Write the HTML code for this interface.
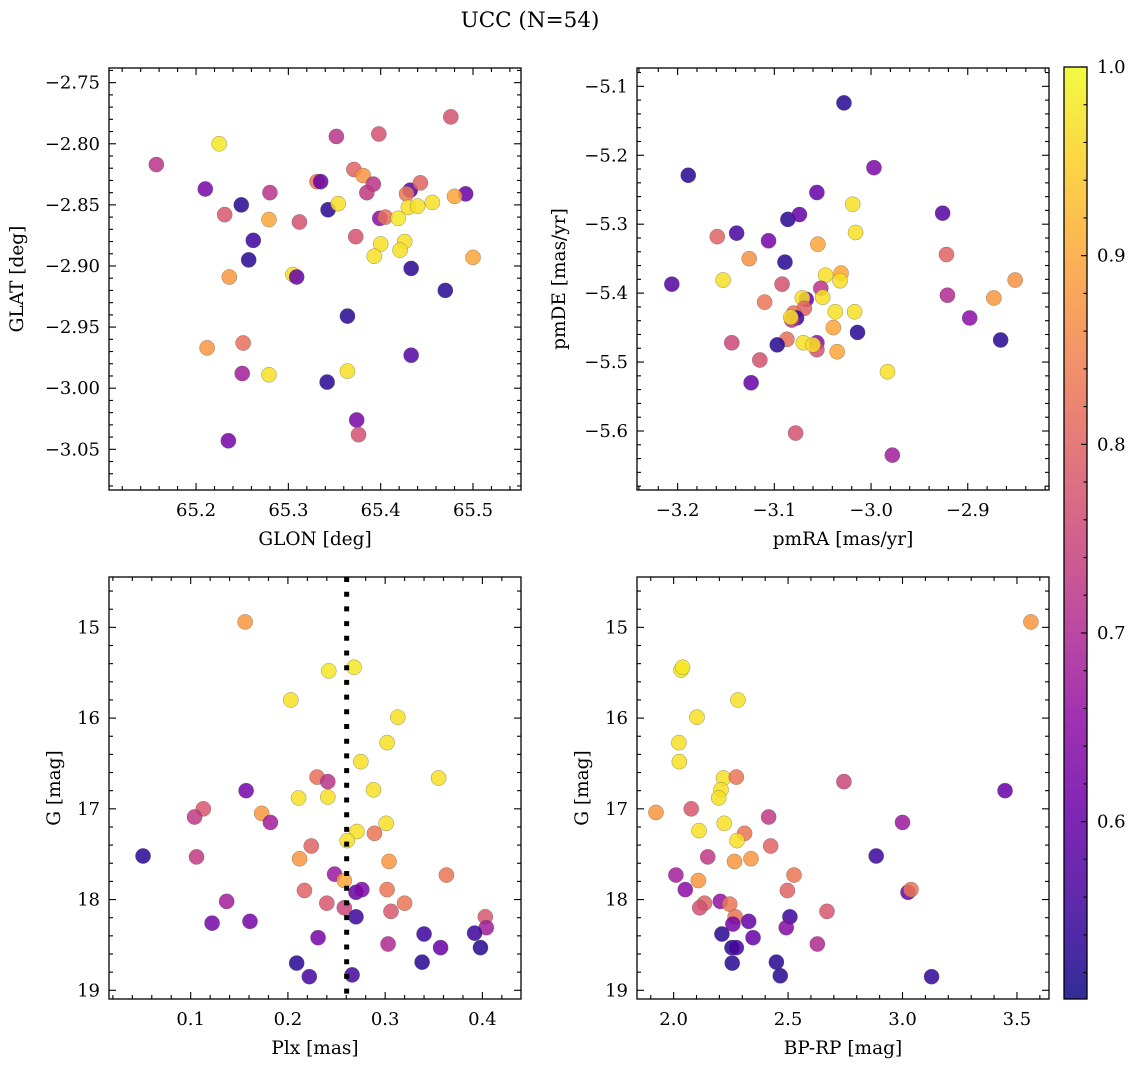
<!DOCTYPE html>
<html><head><meta charset="utf-8"><style>
html,body{margin:0;padding:0;background:#fff;}
svg{display:block;font-family:"DejaVu Serif","Liberation Serif",serif;}
</style></head><body>
<svg id="fig" width="1136" height="1067" viewBox="0 0 1136 1067" xmlns="http://www.w3.org/2000/svg">
<text x="530" y="27" font-size="21.5" text-anchor="middle">UCC (N=54)</text>
</svg>
<script>
// ---- Panel 1: GLON / GLAT ----
const p1X = [65.157,65.225,65.210,65.280,65.249,65.231,65.279,65.312,65.262,65.257,65.236,65.305,65.309,65.352,65.398,65.476,65.331,65.335,65.371,65.381,65.392,65.385,65.343,65.354,65.432,65.443,65.428,65.492,65.480,65.456,65.430,65.440,65.399,65.405,65.419,65.373,65.400,65.426,65.421,65.393,65.433,65.500,65.470,65.364,65.212,65.251,65.250,65.279,65.342,65.364,65.433,65.374,65.376,65.235];
const p1Y = [-2.817,-2.800,-2.837,-2.840,-2.850,-2.858,-2.862,-2.864,-2.879,-2.895,-2.909,-2.907,-2.909,-2.794,-2.792,-2.778,-2.831,-2.831,-2.821,-2.826,-2.833,-2.840,-2.854,-2.849,-2.838,-2.832,-2.841,-2.841,-2.843,-2.848,-2.852,-2.851,-2.861,-2.860,-2.861,-2.876,-2.882,-2.880,-2.887,-2.892,-2.902,-2.893,-2.920,-2.941,-2.967,-2.963,-2.988,-2.989,-2.995,-2.986,-2.973,-3.026,-3.038,-3.043];
const p1P = [0.72,0.98,0.62,0.72,0.53,0.78,0.90,0.77,0.55,0.53,0.88,0.97,0.60,0.72,0.77,0.77,0.83,0.60,0.80,0.88,0.72,0.73,0.53,0.97,0.58,0.80,0.83,0.60,0.90,0.97,0.97,0.97,0.65,0.82,0.98,0.77,0.97,0.97,0.97,0.97,0.53,0.90,0.53,0.53,0.88,0.82,0.68,0.97,0.53,0.97,0.58,0.62,0.77,0.62];
// ---- Panel 2: pmRA / pmDE ----
const p2X = [-3.028,-3.189,-2.997,-3.056,-3.019,-2.926,-3.086,-3.074,-3.139,-3.159,-3.106,-3.016,-3.055,-3.126,-3.089,-2.922,-3.206,-3.153,-3.092,-3.047,-3.031,-3.032,-3.052,-2.851,-2.921,-2.873,-3.110,-3.067,-3.071,-3.050,-3.069,-3.080,-3.037,-3.017,-3.077,-3.082,-3.083,-3.039,-2.898,-3.014,-2.866,-3.144,-3.087,-3.097,-3.070,-3.056,-3.056,-3.060,-3.035,-3.115,-2.983,-3.124,-3.078,-2.978];
const p2Y = [-5.124,-5.229,-5.218,-5.254,-5.271,-5.284,-5.293,-5.286,-5.313,-5.318,-5.324,-5.312,-5.329,-5.350,-5.355,-5.344,-5.387,-5.381,-5.387,-5.374,-5.371,-5.382,-5.393,-5.381,-5.403,-5.407,-5.413,-5.409,-5.407,-5.406,-5.422,-5.429,-5.427,-5.427,-5.436,-5.439,-5.435,-5.450,-5.436,-5.457,-5.468,-5.472,-5.467,-5.475,-5.472,-5.472,-5.482,-5.475,-5.485,-5.497,-5.514,-5.530,-5.603,-5.635];
const p2P = [0.53,0.53,0.63,0.60,0.97,0.58,0.53,0.60,0.56,0.80,0.62,0.97,0.90,0.87,0.53,0.80,0.58,0.97,0.77,0.97,0.90,0.97,0.72,0.87,0.70,0.88,0.83,0.60,0.97,0.97,0.80,0.82,0.97,0.97,0.55,0.72,0.97,0.90,0.65,0.53,0.53,0.75,0.82,0.53,0.97,0.65,0.77,0.97,0.90,0.77,0.97,0.60,0.77,0.68];
// ---- Panel 3: Plx / G ----
const p3X = [0.156,0.242,0.268,0.203,0.313,0.302,0.275,0.355,0.230,0.241,0.157,0.288,0.211,0.241,0.113,0.104,0.173,0.182,0.301,0.271,0.289,0.261,0.224,0.051,0.106,0.212,0.304,0.363,0.248,0.258,0.217,0.270,0.276,0.302,0.240,0.320,0.137,0.258,0.306,0.270,0.403,0.122,0.161,0.404,0.340,0.392,0.231,0.303,0.357,0.398,0.209,0.338,0.222,0.266];
const p3Y = [14.94,15.48,15.44,15.80,15.99,16.27,16.48,16.66,16.65,16.70,16.80,16.79,16.88,16.87,17.00,17.09,17.05,17.15,17.16,17.25,17.27,17.35,17.41,17.52,17.53,17.55,17.58,17.73,17.72,17.79,17.90,17.92,17.89,17.89,18.04,18.04,18.02,18.09,18.13,18.19,18.19,18.26,18.24,18.31,18.38,18.37,18.42,18.49,18.53,18.53,18.70,18.69,18.85,18.83];
const p3P = [0.88,0.98,0.98,0.97,0.97,0.97,0.97,0.97,0.82,0.72,0.62,0.97,0.97,0.97,0.78,0.73,0.88,0.68,0.97,0.97,0.83,0.97,0.80,0.53,0.73,0.88,0.88,0.83,0.67,0.90,0.80,0.60,0.63,0.83,0.78,0.83,0.68,0.75,0.78,0.55,0.78,0.62,0.62,0.68,0.55,0.55,0.62,0.70,0.60,0.53,0.53,0.53,0.56,0.56];
const plxMean = 0.2604;
// ---- Panel 4: BP-RP / G ----
const p4X = [3.561,2.033,2.039,2.281,2.102,2.023,2.025,2.218,2.274,2.744,3.448,2.207,2.197,2.077,1.923,2.415,3.000,2.221,2.111,2.310,2.277,2.424,2.885,2.149,2.338,2.266,2.010,2.526,2.108,2.051,2.497,3.024,3.037,2.135,2.114,2.204,2.245,2.670,2.269,2.508,2.259,2.328,2.492,2.211,2.347,2.628,2.255,2.274,2.256,2.449,2.466,3.127];
const p4Y = [14.94,15.47,15.44,15.80,15.99,16.27,16.48,16.66,16.65,16.70,16.80,16.79,16.88,17.00,17.04,17.09,17.15,17.16,17.24,17.27,17.35,17.41,17.52,17.53,17.55,17.58,17.73,17.73,17.79,17.89,17.90,17.92,17.89,18.04,18.09,18.02,18.05,18.13,18.19,18.19,18.27,18.24,18.31,18.38,18.42,18.49,18.53,18.53,18.70,18.69,18.84,18.85];
const p4P = [0.88,0.98,0.98,0.97,0.97,0.97,0.97,0.97,0.83,0.75,0.60,0.97,0.97,0.78,0.88,0.73,0.67,0.97,0.97,0.83,0.97,0.80,0.55,0.73,0.88,0.88,0.68,0.83,0.88,0.65,0.80,0.60,0.83,0.80,0.77,0.66,0.83,0.78,0.83,0.55,0.62,0.60,0.64,0.53,0.60,0.70,0.53,0.56,0.53,0.53,0.53,0.54];
// ---- Colorbar ----
const cbMin = 0.506, cbMax = 1.0;
const cbTicks = [0.6,0.7,0.8,0.9,1.0];

const NS = "http://www.w3.org/2000/svg";
const svg = document.getElementById('fig');
function mk(tag, attrs, parent){const e=document.createElementNS(NS,tag);for(const k in attrs)e.setAttribute(k,attrs[k]);(parent||svg).appendChild(e);return e;}

const plasma=[[13,8,135],[65,4,157],[106,0,168],[143,13,164],[177,42,144],[204,71,120],[225,100,98],[242,132,75],[252,166,54],[252,206,37],[240,249,33]];
function cmap(v){let t=(v-cbMin)/(cbMax-cbMin);t=Math.max(0,Math.min(1,t))*10;const i=Math.min(9,Math.floor(t));const f=t-i;const a=plasma[i],b=plasma[i+1];return `rgb(${Math.round(a[0]+(b[0]-a[0])*f)},${Math.round(a[1]+(b[1]-a[1])*f)},${Math.round(a[2]+(b[2]-a[2])*f)})`;}

function fmt(v,d){const s=v.toFixed(d);return s.replace('-','\u2212');}
const TFS=18, LFS=18.5;

function panel(cfg){
  const {name,x0,x1,y0,y1,xr,yr,invertY,xs,ys,ps,xMaj,xMin,yMaj,yMin,xDec,yDec,xlabel,ylabel,ylabX}=cfg;
  const sx=v=>x0+(v-xr[0])/(xr[1]-xr[0])*(x1-x0);
  const sy=invertY? (v=>y0+(v-yr[0])/(yr[1]-yr[0])*(y1-y0)) : (v=>y1-(v-yr[0])/(yr[1]-yr[0])*(y1-y0));
  const g=mk('g',{});
  
  
  const pg=mk('g',{},g);
  
  
  for(let i=0;i<xs.length;i++){
    const c=mk('circle',{cx:sx(xs[i]),cy:sy(ys[i]),r:7.6,fill:cmap(ps[i]),'fill-opacity':0.85,stroke:'#555','stroke-width':0.5,'stroke-opacity':0.6},pg);
    
    
  }
  if(cfg.vline!==undefined){
    const l=mk('line',{x1:sx(cfg.vline),x2:sx(cfg.vline),y1:y0,y2:y1,stroke:'#000','stroke-width':5,'stroke-dasharray':'5 9.7'},g);
    
    
  }
  const fr=mk('rect',{x:x0,y:y0,width:x1-x0,height:y1-y0,fill:'none',stroke:'#000','stroke-width':1.3},g);
  
  
  const tg=mk('g',{stroke:'#000','stroke-width':1.1},g);
  
  
  const xlo=Math.min(...xr),xhi=Math.max(...xr),ylo=Math.min(...yr),yhi=Math.max(...yr);
  for(let k=Math.ceil(xlo/xMin-1e-6);k*xMin<=xhi+1e-9;k++){
    const v=k*xMin; const maj=Math.abs(v/xMaj-Math.round(v/xMaj))<1e-6; const L=maj?7:4; const X=sx(v);
    mk('line',{x1:X,x2:X,y1:y1,y2:y1-L},tg); mk('line',{x1:X,x2:X,y1:y0,y2:y0+L},tg);
    if(maj){const t=mk('text',{x:X,y:y1+26,'font-size':TFS,'text-anchor':'middle',stroke:'none',fill:'#000'},g);t.textContent=fmt(v,xDec);
      
      }
  }
  for(let k=Math.ceil(ylo/yMin-1e-6);k*yMin<=yhi+1e-9;k++){
    const v=k*yMin; const maj=Math.abs(v/yMaj-Math.round(v/yMaj))<1e-6; const L=maj?7:4; const Y=sy(v);
    mk('line',{x1:x0,x2:x0+L,y1:Y,y2:Y},tg); mk('line',{x1:x1,x2:x1-L,y1:Y,y2:Y},tg);
    if(maj){const t=mk('text',{x:x0-9,y:Y+6,'font-size':TFS,'text-anchor':'end',stroke:'none',fill:'#000'},g);t.textContent=fmt(v,yDec);
      
      }
  }
  const xl=mk('text',{x:(x0+x1)/2,y:y1+55,'font-size':LFS,'text-anchor':'middle'},g);xl.textContent=xlabel;
  
  
  const yc=(y0+y1)/2;
  const yl=mk('text',{x:ylabX,y:yc,'font-size':LFS,'text-anchor':'middle',transform:`rotate(-90 ${ylabX} ${yc})`},g);yl.textContent=ylabel;
  
  
}

panel({name:'glon-glat',x0:109,x1:521,y0:68,y1:490,xr:[65.1057,65.552],yr:[-3.0833,-2.738],xs:p1X,ys:p1Y,ps:p1P,xMaj:0.1,xMin:0.02,yMaj:0.05,yMin:0.01,xDec:1,yDec:2,xlabel:'GLON [deg]',ylabel:'GLAT [deg]',ylabX:23});
panel({name:'pm',x0:637,x1:1049,y0:68,y1:490,xr:[-3.242,-2.816],yr:[-5.6856,-5.0734],xs:p2X,ys:p2Y,ps:p2P,xMaj:0.1,xMin:0.02,yMaj:0.1,yMin:0.02,xDec:1,yDec:1,xlabel:'pmRA [mas/yr]',ylabel:'pmDE [mas/yr]',ylabX:565});
panel({name:'plx-g',x0:109,x1:521,y0:577,y1:999,xr:[0.016,0.4397],yr:[14.445,19.096],invertY:true,xs:p3X,ys:p3Y,ps:p3P,xMaj:0.1,xMin:0.02,yMaj:1,yMin:0.2,xDec:1,yDec:0,xlabel:'Plx [mas]',ylabel:'G [mag]',ylabX:60,vline:plxMean});
panel({name:'cmd',x0:637,x1:1049,y0:577,y1:999,xr:[1.840,3.640],yr:[14.445,19.096],invertY:true,xs:p4X,ys:p4Y,ps:p4P,xMaj:0.5,xMin:0.1,yMaj:1,yMin:0.2,xDec:1,yDec:0,xlabel:'BP-RP [mag]',ylabel:'G [mag]',ylabX:588});

(function(){
  const cx0=1064,cx1=1087,cy0=67,cy1=999;
  const g=mk('g',{});
  
  
  const defs=mk('defs',{},g);
  const lg=mk('linearGradient',{id:'cbg',x1:0,y1:1,x2:0,y2:0},defs);
  for(let i=0;i<=10;i++){const v=cbMin+(cbMax-cbMin)*i/10;mk('stop',{offset:i/10,'stop-color':cmap(v)},lg);}
  const r=mk('rect',{x:cx0,y:cy0,width:cx1-cx0,height:cy1-cy0,fill:'url(#cbg)','fill-opacity':0.85,stroke:'#000','stroke-width':1.3},g);
  
  
  const sy=v=>cy1-(v-cbMin)/(cbMax-cbMin)*(cy1-cy0);
  for(let k=Math.ceil(cbMin/0.02);k*0.02<=cbMax+1e-9;k++){
    const v=k*0.02;const maj=Math.abs(v*10-Math.round(v*10))<1e-6;const L=maj?6:3.5;const Y=sy(v);
    mk('line',{x1:cx1,x2:cx1-L,y1:Y,y2:Y,stroke:'#000','stroke-width':1.1},g);
  }
  for(const v of cbTicks){
    const t=mk('text',{x:cx1+10,y:sy(v)+6,'font-size':TFS},g);t.textContent=v.toFixed(1);
    
    
  }
})();
</script>
</body></html>
